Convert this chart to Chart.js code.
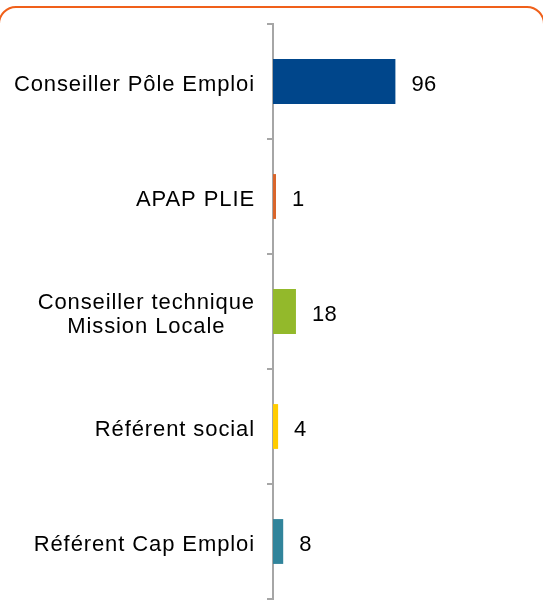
<!DOCTYPE html>
<html>
<head>
<meta charset="utf-8">
<script src="https://cdn.jsdelivr.net/npm/chart.js@4/dist/chart.umd.min.js"></script>
<style>
  body { margin: 0; background: #fff; }
  canvas { display: block; }
</style>
</head>
<body>
<canvas id="prescripteurs" width="543" height="603"></canvas>
<script>
// donnees
var categories = ['Conseiller Pôle Emploi', 'APAP PLIE', ['Conseiller technique', 'Mission Locale'], 'Référent social', 'Référent Cap Emploi'];
var valeurs = [96, 1, 18, 4, 8];
var couleurs = ['#00468B', '#D9652B', '#93B92B', '#FFCC00', '#31849B'];

var police = '22px "Liberation Sans", Arial, sans-serif';

// cadre orange arrondi
var cadre = {
  id: 'cadre',
  beforeDraw: function(chart) {
    var c = chart.ctx;
    c.save();
    c.strokeStyle = '#F0601A';
    c.lineWidth = 2;
    c.beginPath();
    c.roundRect(-1, 7, 545, 700, 17);
    c.stroke();
    c.restore();
  }
};

// libelles de categories (lignes centrees dans le bloc, bloc aligne a droite)
var libelles = {
  id: 'libelles',
  afterDraw: function(chart) {
    var c = chart.ctx;
    var sy = chart.scales.y;
    var droite = sy.right - 18;
    c.save();
    c.font = police;
    c.letterSpacing = '0.9px';
    c.fillStyle = '#000';
    c.textBaseline = 'middle';
    for (var i = 0; i < categories.length; i++) {
      var lignes = Array.isArray(categories[i]) ? categories[i] : [categories[i]];
      var y = sy.getPixelForTick(i) + 3;
      var largeur = 0;
      lignes.forEach(function(l) { largeur = Math.max(largeur, c.measureText(l).width); });
      var h = 24;
      var y0 = y - (lignes.length - 1) * h / 2;
      for (var j = 0; j < lignes.length; j++) {
        if (lignes.length > 1) {
          c.textAlign = 'center';
          c.fillText(lignes[j], droite - largeur / 2, y0 + j * h);
        } else {
          c.textAlign = 'right';
          c.fillText(lignes[j], droite, y0 + j * h);
        }
      }
    }
    c.restore();
  }
};

// valeurs a droite des barres
var etiquettes = {
  id: 'etiquettes',
  afterDatasetsDraw: function(chart) {
    var c = chart.ctx;
    var meta = chart.getDatasetMeta(0);
    c.save();
    c.font = police;
    c.letterSpacing = '0.4px';
    c.fillStyle = '#000';
    c.textAlign = 'left';
    c.textBaseline = 'middle';
    meta.data.forEach(function(bar, i) {
      c.fillText(valeurs[i], bar.x + 16, bar.y + 3);
    });
    c.restore();
  }
};

new Chart(document.getElementById('prescripteurs'), {
  type: 'bar',
  data: {
    labels: categories,
    datasets: [{
      data: valeurs,
      backgroundColor: couleurs,
      borderWidth: 0,
      barPercentage: 0.39,
      categoryPercentage: 1,
      minBarLength: 3
    }]
  },
  options: {
    indexAxis: 'y',
    responsive: false,
    animation: false,
    devicePixelRatio: 1,
    layout: { padding: { top: 24, bottom: 4, left: 0, right: 15 } },
    plugins: {
      legend: { display: false },
      tooltip: { enabled: false }
    },
    scales: {
      x: {
        display: false,
        min: 0,
        max: 200
      },
      y: {
        offset: true,
        afterFit: function(scale) { scale.width = 273; },
        ticks: { display: false },
        grid: {
          offset: true,
          drawOnChartArea: false,
          drawTicks: true,
          tickLength: 6,
          color: '#A6A6A6',
          lineWidth: 2
        },
        border: { display: true, color: '#A6A6A6', width: 2 }
      }
    }
  },
  plugins: [cadre, libelles, etiquettes]
});
</script>
</body>
</html>
